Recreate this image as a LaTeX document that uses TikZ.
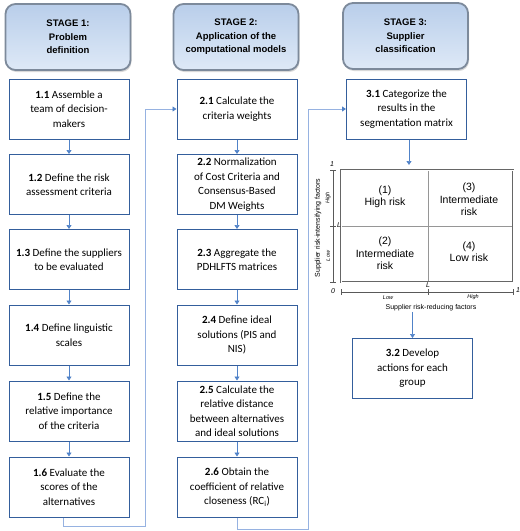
\documentclass[tikz,border=0pt]{standalone}
\usepackage{fontspec}
\setmainfont{Carlito}
\newfontfamily\arial{Liberation Sans}
\usetikzlibrary{arrows.meta,shadows,calc}
\definecolor{boxblue}{RGB}{52,94,156}
\definecolor{arrblue}{RGB}{80,130,200}
\definecolor{loopblue}{RGB}{150,178,225}
\definecolor{hdredge}{RGB}{125,138,155}
\definecolor{hdrtop}{RGB}{185,206,234}
\definecolor{hdrbot}{RGB}{222,233,247}
\definecolor{gridgray}{RGB}{150,150,150}
\begin{document}
\begin{tikzpicture}[x=1pt,y=-1pt,
  hdr/.style={draw=hdredge, line width=1.8pt, rounded corners=10pt,
    top color=hdrtop, bottom color=hdrbot, minimum width=125pt, minimum height=66pt,
    align=center, font=\arial\bfseries\fontsize{9.5}{13.5}\selectfont,
    drop shadow={shadow xshift=1pt, shadow yshift=-2pt, opacity=0.3}},
  stepbox/.style={draw=boxblue, line width=1pt, fill=white, minimum width=120pt,
    minimum height=60pt, inner sep=1pt, align=center,
    font=\fontsize{11}{14.5}\selectfont},
  arr/.style={draw=arrblue, line width=0.7pt, -{Triangle[width=5pt,length=4pt]}},
  loopline/.style={draw=loopblue, line width=0.8pt, -{Triangle[width=5pt,length=4pt,fill=arrblue,color=arrblue]}},
  quad/.style={align=center, font=\arial\fontsize{10.5}{12.5}\selectfont},
  axlab/.style={font=\arial\fontsize{7}{8}\selectfont, inner sep=0.5pt},
  smlab/.style={font=\arial\itshape\fontsize{7}{8}\selectfont, inner sep=0.5pt},
  tinylab/.style={font=\arial\itshape\fontsize{5.5}{6}\selectfont, inner sep=0.5pt}
]
\useasboundingbox (0,0) rectangle (520,531);

% headers
\node[hdr] (h1) at (68,37) {STAGE 1:\\Problem\\definition};
\node[hdr] (h2) at (236,37) {STAGE 2:\\Application of the\\computational models};
\node[hdr] (h3) at (405.5,36) {STAGE 3:\\Supplier\\classification};

% column 1
\node[stepbox] (n11) at (69,109) {\textbf{1.1} Assemble a\\team of decision-\\makers};
\node[stepbox] (n12) at (69,184.5) {\textbf{1.2} Define the risk\\assessment criteria};
\node[stepbox] (n13) at (69,259.5) {\textbf{1.3} Define the suppliers\\to be evaluated};
\node[stepbox] (n14) at (69,335) {\textbf{1.4} Define linguistic\\scales};
\node[stepbox] (n15) at (69,411) {\textbf{1.5} Define the\\relative importance\\of the criteria};
\node[stepbox] (n16) at (69,487) {\textbf{1.6} Evaluate the\\scores of the\\alternatives};

% column 2
\node[stepbox] (n21) at (237,109) {\textbf{2.1} Calculate the\\criteria weights};
\node[stepbox] (n22) at (237,184.5) {\textbf{2.2} Normalization\\of Cost Criteria and\\Consensus-Based\\DM Weights};
\node[stepbox] (n23) at (237,259.5) {\textbf{2.3} Aggregate the\\PDHLFTS matrices};
\node[stepbox] (n24) at (237,335) {\textbf{2.4} Define ideal\\solutions (PIS and\\NIS)};
\node[stepbox] (n25) at (237,411) {\textbf{2.5} Calculate the\\relative distance\\between alternatives\\and ideal solutions};
\node[stepbox] (n26) at (237,487) {\textbf{2.6} Obtain the\\coefficient of relative\\closeness (RC\textsubscript{i})};

% column 3
\node[stepbox] (n31) at (406.5,109) {\textbf{3.1} Categorize the\\results in the\\segmentation matrix};
\node[stepbox] (n32) at (412.5,368.5) {\textbf{3.2} Develop\\actions for each\\group};

% vertical arrows
\foreach \a/\b in {n11/n12,n12/n13,n13/n14,n14/n15,n15/n16,n21/n22,n22/n23,n23/n24,n24/n25,n25/n26}
  \draw[arr] (\a) -- (\b);

% loops
\coordinate (c1) at (145,526);
\coordinate (c2) at (308,529);
\draw[loopline] ($(n16.south)+(-6,0)$) |- (c1) |- (n21.west);
\draw[loopline] (n26.south) |- (c2) |- (n31.west);

% matrix
\coordinate (mtop) at (409,165);
\draw[arr] (n31.south -| mtop) -- (mtop);
\draw[gridgray, line width=0.5pt] (428,170) -- (428,282);
\draw[gridgray, line width=0.5pt] (341,226) -- (513,226);
\draw[draw=gray!80!black, line width=0.6pt, double=white, double distance=0.7pt] (341,170) rectangle (513,282);

\node[quad] (q1) at (385,197) {(1)\\High risk};
\node[quad] (q3) at (469,199.5) {(3)\\Intermediate\\risk};
\node[quad] (q2) at (385,253.5) {(2)\\Intermediate\\risk};
\node[quad] (q4) at (469,251.5) {(4)\\Low risk};

% y axis
\draw[gray!70!black, line width=0.5pt] (333,170) -- (333,282);
\foreach \yy in {170,226,282} \draw[gray!70!black, line width=0.5pt] (330,\yy) -- (336,\yy);
\node[smlab] (y1) at (332,164) {1};
\node[smlab] (yl) at (339,225) {L};
\node[tinylab, rotate=90] (yhi) at (328,198) {High};
\node[tinylab, rotate=90] (ylo) at (328,256) {Low};
\node[axlab, rotate=90] (ylab) at (318,228) {Supplier risk-intensifying factors};

% x axis
\draw[gray!70!black, line width=0.5pt] (341,292) -- (513,292);
\foreach \xx in {341,428,513} \draw[gray!70!black, line width=0.5pt] (\xx,289) -- (\xx,295);
\node[smlab] (x0) at (333,291) {0};
\node[smlab] (xl) at (428,285) {L};
\node[smlab] (x1) at (518,290) {1};
\node[tinylab] (xlo) at (388,297.5) {Low};
\node[tinylab] (xhi) at (473,297.5) {High};
\node[axlab] (xlab) at (431,308) {Supplier risk-reducing factors};

\draw[arr] (n32.north |- xlab.south) -- (n32.north);
\end{tikzpicture}
\end{document}
